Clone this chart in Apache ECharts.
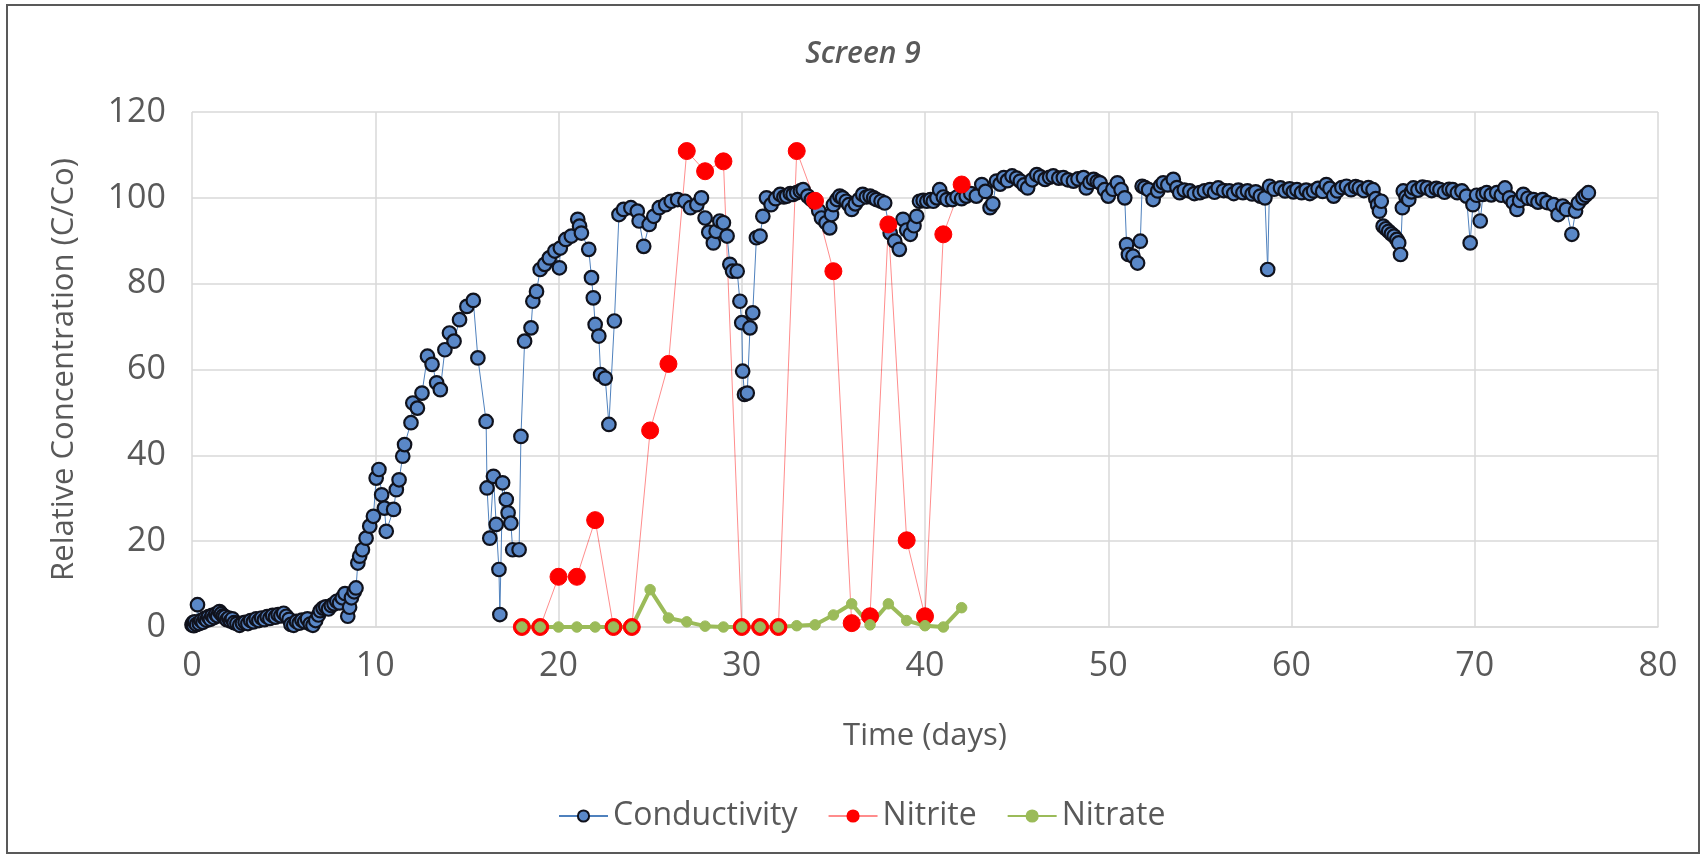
<!DOCTYPE html>
<html>
<head>
<meta charset="utf-8">
<script src="https://cdn.jsdelivr.net/npm/echarts@6/dist/echarts.min.js"></script>
<style>
  html, body { margin: 0; padding: 0; background: #fff; }
  #chart { width: 1707px; height: 857px; }
</style>
</head>
<body>
<div id="chart"></div>
<script>
// conductivity readings [day, C/Co]
const conductivity = [
  [0.0,0.5],[0.05,1.0],[0.1,0.3],[0.15,1.2],[0.25,0.6],[0.3,5.2],[0.4,0.8],[0.5,1.5],[0.6,1.1],[0.7,2.0],
  [0.8,1.6],[0.9,2.4],[1.0,1.8],[1.1,2.7],[1.2,2.2],[1.3,3.0],[1.4,2.6],[1.5,3.6],[1.6,3.1],[1.7,2.6],
  [1.8,2.4],[1.9,1.7],[2.0,2.1],[2.1,1.4],[2.2,1.9],[2.3,1.0],[2.45,0.8],[2.6,0.4],[2.75,0.9],[2.9,1.1],
  [3.05,0.8],[3.2,1.5],[3.35,1.2],[3.5,1.9],[3.65,1.5],[3.8,2.1],[3.95,1.7],[4.1,2.4],[4.25,2.0],[4.4,2.7],
  [4.55,2.3],[4.7,2.9],[4.85,2.6],[5.0,3.2],[5.15,2.5],[5.3,1.8],[5.4,0.6],[5.55,0.4],[5.7,1.3],[5.85,0.9],
  [6.0,1.6],[6.15,1.2],[6.3,1.9],[6.45,0.7],[6.6,0.4],[6.75,1.5],[6.9,2.8],[7.0,3.8],[7.15,4.4],[7.3,4.7],
  [7.45,4.2],[7.6,5.0],[7.75,5.4],[7.9,6.0],[8.05,5.6],[8.2,6.8],[8.35,7.8],[8.5,2.5],[8.6,4.6],[8.7,6.8],
  [8.85,8.2],[8.95,9.1],
  [9.05,14.9],[9.15,16.5],[9.3,18.0],[9.5,20.7],[9.7,23.5],[9.9,25.8],[10.05,34.7],[10.2,36.7],[10.35,30.8],
  [10.5,27.7],[10.6,22.3],[11.0,27.4],[11.15,32.0],[11.3,34.3],[11.5,39.8],[11.6,42.5],[11.95,47.6],
  [12.05,52.2],[12.3,51.0],[12.55,54.5],[12.85,63.1],[13.1,61.2],[13.35,56.9],[13.55,55.3],[13.8,64.6],
  [14.05,68.5],[14.3,66.6],[14.6,71.6],[15.0,74.7],[15.35,76.1],[15.6,62.7],[16.05,47.9],[16.1,32.4],
  [16.25,20.7],[16.45,35.1],[16.6,23.9],[16.75,13.4],[16.8,2.9],[16.95,33.6],[17.15,29.7],[17.25,26.6],
  [17.4,24.2],[17.5,18.0],[17.85,18.0],[17.95,44.4],[18.15,66.6],[18.5,69.7],[18.6,75.9],[18.8,78.2],
  [19.0,83.3],[19.25,84.5],[19.5,86.0],[19.8,87.6],[20.05,83.7],[20.1,88.3],[20.4,90.3],[20.7,91.1],
  [21.05,95.0],[21.15,93.4],[21.25,91.8],[21.65,88.0],[21.8,81.4],[21.9,76.7],[22.0,70.5],[22.2,67.8],
  [22.3,58.8],[22.55,58.0],[22.75,47.2],[23.05,71.3],[23.3,96.1],[23.55,97.3],[23.95,97.7],[24.3,96.9],
  [24.4,94.6],[24.65,88.7],[24.95,93.8],[25.2,95.7],[25.5,97.7],[25.85,98.4],[26.15,99.2],[26.5,99.6],
  [26.9,99.2],[27.2,97.7],[27.55,98.4],[27.8,100.0],
  [28.0,95.3],[28.2,92.0],[28.45,89.5],[28.6,92.2],[28.8,94.6],[29.0,94.2],[29.2,91.1],[29.35,84.5],
  [29.5,82.9],[29.75,82.9],[29.9,75.9],[30.0,70.9],[30.05,59.6],[30.15,54.2],[30.3,54.5],[30.45,69.7],
  [30.6,73.2],[30.8,90.7],[31.0,91.1],[31.15,95.7],
  [31.35,100.0],[31.6,98.4],[31.85,99.8],[32.1,100.8],[32.3,100.2],[32.45,100.4],[32.65,101.0],[32.8,100.8],
  [33.0,101.2],[33.2,101.6],[33.35,101.9],[33.6,100.4],[33.8,99.6],[34.0,98.8],[34.2,97.0],[34.35,95.3],
  [34.6,94.2],[34.8,93.0],[34.9,96.1],[35.0,98.4],[35.2,99.6],[35.35,100.4],[35.5,100.0],[35.7,99.2],
  [35.85,98.4],[36.0,97.3],[36.2,98.6],[36.4,99.6],[36.6,100.8],[36.8,100.2],[37.0,100.4],[37.2,100.0],
  [37.35,99.6],[37.6,99.2],[37.8,98.8],[38.1,91.8],[38.35,89.9],[38.6,88.0],[38.8,95.0],[39.0,92.5],
  [39.2,91.5],[39.4,93.5],[39.55,95.7],[39.7,99.2],[39.9,99.4],[40.1,99.2],[40.3,99.6],[40.45,99.2],
  [40.65,100.0],[40.8,101.9],[41.0,100.2],[41.2,99.6],
  [41.5,99.6],[41.75,100.2],[42.0,99.8],[42.25,100.4],[42.5,101.0],[42.8,100.4],[43.1,103.1],[43.3,101.5],
  [43.55,97.7],[43.7,98.6],[43.9,103.9],[44.1,103.2],[44.3,104.7],[44.5,104.0],[44.75,105.1],[45.0,104.6],
  [45.2,103.9],[45.4,103.0],[45.6,102.3],[45.85,104.2],[46.1,105.4],[46.3,104.9],[46.55,104.3],[46.8,104.8],
  [47.0,105.1],[47.3,104.6],[47.55,104.7],[47.8,104.2],[48.1,103.9],[48.35,104.4],[48.65,104.7],[48.8,102.3],
  [49.0,103.6],[49.2,104.3],[49.4,103.8],[49.55,103.5],[49.8,101.9],[50.0,100.4],[50.25,102.0],[50.5,103.5],
  [50.7,101.9],[50.9,100.0],[51.0,89.1],[51.1,86.8],[51.35,86.4],[51.6,84.8],[51.75,89.9],[51.85,102.7],
  [52.0,102.4],[52.2,101.9],[52.45,99.6],[52.7,101.6],[52.85,102.8],[53.0,103.5],[53.25,103.0],[53.55,104.3],
  [53.75,102.4],[53.9,101.2],[54.15,101.8],[54.45,101.6],[54.7,101.0],[55.0,101.2],[55.25,101.6],[55.55,101.9],
  [55.8,101.3],[56.0,102.3],[56.3,101.7],[56.6,101.6],[56.85,101.0],[57.1,101.8],[57.35,101.2],[57.6,101.6],
  [57.85,100.9],[58.05,101.4],[58.3,100.4],[58.55,100.0],[58.7,83.3],[58.8,102.7],[59.05,102.0],[59.4,102.3],
  [59.65,101.6],[59.9,102.1],[60.1,101.4],[60.3,101.9],[60.55,101.2],[60.8,101.8],[61.0,101.0],[61.2,101.6],
  [61.45,102.2],[61.7,101.5],[61.9,103.1],[62.1,102.2],[62.3,100.4],[62.5,101.6],[62.75,102.4],[63.0,102.7],
  [63.25,101.9],[63.5,102.6],[63.7,102.3],[63.95,101.7],[64.2,102.4],[64.45,101.9],[64.6,99.8],[64.7,98.4],
  [64.8,96.9],[64.9,99.2],[65.0,93.4],[65.15,92.8],[65.3,92.2],[65.45,91.6],[65.6,91.1],[65.75,90.3],
  [65.85,89.5],[65.95,86.8],[66.05,97.7],[66.1,101.6],[66.25,100.2],[66.4,99.6],[66.55,101.4],[66.65,102.3],
  [66.9,101.8],[67.15,102.5],[67.4,102.3],[67.65,101.7],[67.9,102.2],[68.1,101.9],[68.35,101.3],[68.6,102.0],
  [68.8,101.9],[69.05,101.2],[69.3,101.6],[69.55,100.4],[69.75,89.5],[69.9,98.4],[70.1,100.6],[70.3,94.6],
  [70.45,100.8],[70.65,101.2],[70.9,100.7],[71.2,101.2],[71.45,100.6],[71.65,102.3],[71.9,100.0],[72.1,98.9],
  [72.3,97.3],[72.45,99.4],[72.65,100.8],[72.9,99.9],[73.2,99.6],[73.45,99.0],[73.7,99.6],[73.95,98.9],
  [74.3,98.4],[74.55,96.1],[74.8,98.1],[75.0,97.3],[75.3,91.5],[75.5,96.9],[75.65,98.8],[75.9,100.0],
  [76.05,100.6],[76.2,101.2]
];

// nitrite / nitrate sampled once a day
const nDays = [18,19,20,21,22,23,24,25,26,27,28,29,30,31,32,33,34,35,36,37,38,39,40,41,42];
const nitrite = [0,0,11.7,11.7,24.9,0,0,45.8,61.3,110.9,106.2,108.5,0,0,0,110.9,99.3,82.9,0.9,2.5,93.8,20.2,2.5,91.5,103.1];
const nitrate = [0,0,0,0,0,0,0,8.7,2.1,1.2,0.2,0,0,0,0,0.3,0.5,2.8,5.4,0.5,5.4,1.5,0.3,0,4.5];

const xTicks = { min: 0, max: 80, step: 10 };
const yTicks = { min: 0, max: 120, step: 20 };

const font = '"Open Sans", "Noto Sans", sans-serif';
const grey = '#595959';
const gridCol = '#D9D9D9';

var myChart = echarts.init(document.getElementById('chart'));
const option = {
  animation: false,
  backgroundColor: '#fff',
  title: {
    text: 'Screen 9',
    left: 858,
    textAlign: 'center',
    top: 34,
    textStyle: { fontFamily: font, fontSize: 30, fontStyle: 'italic', fontWeight: 600, color: grey }
  },
  graphic: [{
    type: 'rect',
    shape: { x: 7, y: 5, width: 1692, height: 848 },
    style: { fill: 'none', stroke: '#595959', lineWidth: 2 },
    silent: true
  }],
  legend: {
    top: 795,
    left: 553,
    itemWidth: 49,
    itemHeight: 14,
    itemGap: 30,
    textStyle: { fontFamily: font, fontSize: 32, color: grey },
    data: ['Conductivity', 'Nitrite', 'Nitrate']
  },
  grid: { left: 192, right: 49, top: 112, bottom: 230 },
  xAxis: {
    type: 'value',
    min: xTicks.min, max: xTicks.max, interval: xTicks.step,
    name: 'Time (days)',
    nameLocation: 'middle',
    nameGap: 94,
    nameTextStyle: { fontFamily: font, fontSize: 31, color: grey },
    axisLine: { show: true, lineStyle: { color: gridCol, width: 1.5 } },
    axisTick: { show: false },
    axisLabel: { fontFamily: font, fontSize: 34, color: grey, margin: 22 },
    splitLine: { show: true, lineStyle: { color: gridCol, width: 1.5 } }
  },
  yAxis: {
    type: 'value',
    min: yTicks.min, max: yTicks.max, interval: yTicks.step,
    name: 'Relative Concentration (C/Co)',
    nameLocation: 'middle',
    nameGap: 112,
    nameTextStyle: { fontFamily: font, fontSize: 31, color: grey },
    axisLine: { show: false },
    axisTick: { show: false },
    axisLabel: { fontFamily: font, fontSize: 34, color: grey, margin: 26 },
    splitLine: { show: true, lineStyle: { color: gridCol, width: 1.5 } }
  },
  series: [
    {
      name: 'Conductivity',
      type: 'line',
      data: conductivity,
      symbol: 'circle',
      symbolSize: 13.5,
      lineStyle: { color: '#4F81BD', width: 1 },
      itemStyle: { color: '#5A88C8', borderColor: '#10121c', borderWidth: 2.2 }
    },
    {
      name: 'Nitrite',
      type: 'line',
      data: nDays.map((d, i) => [d, nitrite[i]]),
      symbol: 'circle',
      symbolSize: 17,
      lineStyle: { color: 'rgba(255,0,0,0.45)', width: 1 },
      itemStyle: { color: '#FF0000', borderColor: '#FF0000', borderWidth: 1 }
    },
    {
      name: 'Nitrate',
      type: 'line',
      data: nDays.map((d, i) => [d, nitrate[i]]),
      symbol: 'circle',
      symbolSize: 10.5,
      lineStyle: { color: '#9BBB59', width: 4 },
      itemStyle: { color: '#9BBB59', borderColor: '#9BBB59', borderWidth: 1 }
    }
  ]
};
myChart.setOption(option);
</script>
</body>
</html>
